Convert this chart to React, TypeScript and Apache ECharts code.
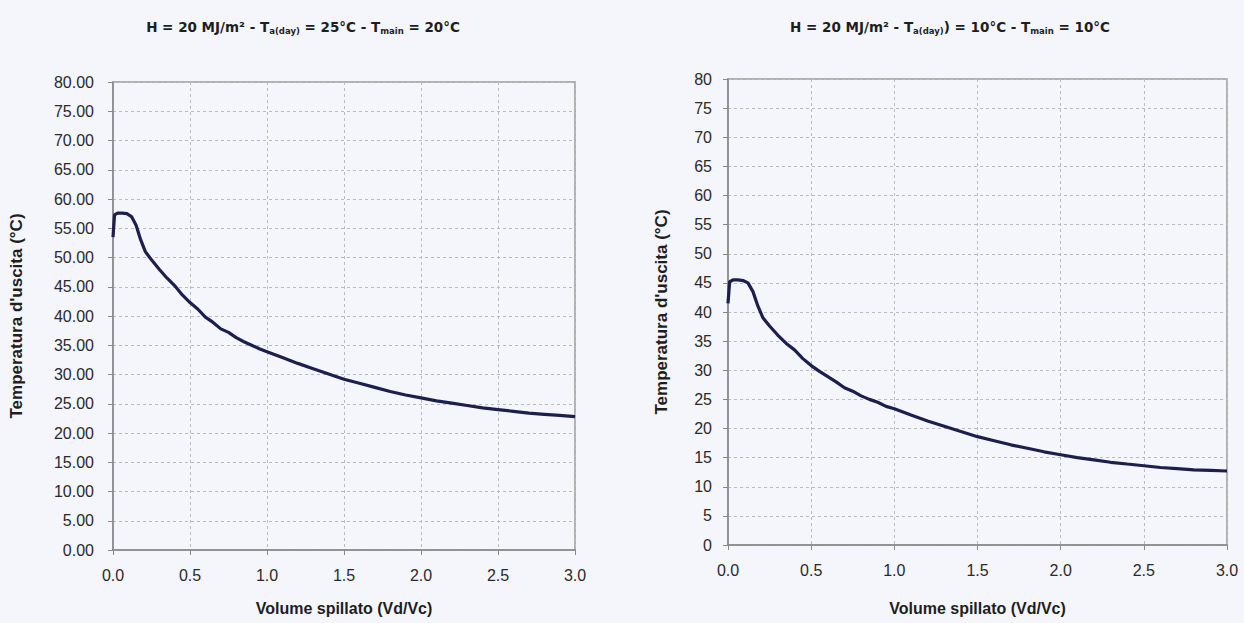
import React, { useEffect, useRef } from "react";
import * as echarts from "echarts";

const xValues = [0, 0.01, 0.03, 0.06, 0.09, 0.12, 0.15, 0.18, 0.21, 0.25, 0.3, 0.35, 0.4, 0.45, 0.5, 0.55, 0.6, 0.65, 0.7, 0.75, 0.8, 0.85, 0.9, 0.95, 1.0, 1.1, 1.2, 1.3, 1.4, 1.5, 1.6, 1.7, 1.8, 1.9, 2.0, 2.1, 2.2, 2.3, 2.4, 2.5, 2.6, 2.7, 2.8, 2.9, 3.0];
const leftTemps = [53.5, 57.3, 57.6, 57.6, 57.5, 57.0, 55.5, 53.0, 51.0, 49.6, 48.0, 46.5, 45.2, 43.6, 42.3, 41.2, 39.8, 38.9, 37.8, 37.2, 36.3, 35.6, 35.0, 34.4, 33.9, 32.9, 31.9, 31.0, 30.1, 29.2, 28.5, 27.8, 27.1, 26.5, 26.0, 25.5, 25.1, 24.7, 24.3, 24.0, 23.7, 23.4, 23.2, 23.0, 22.8];
const rightTemps = [41.5, 45.2, 45.5, 45.5, 45.4, 45.0, 43.5, 41.0, 39.0, 37.6, 36.0, 34.6, 33.5, 32.0, 30.8, 29.8, 28.9, 28.0, 27.0, 26.4, 25.6, 25.0, 24.5, 23.8, 23.4, 22.3, 21.3, 20.4, 19.5, 18.6, 17.9, 17.2, 16.6, 16.0, 15.5, 15.0, 14.6, 14.2, 13.9, 13.6, 13.3, 13.1, 12.9, 12.8, 12.7];

const leftTitle = ["H = 20 MJ/m² - T", "a(day)", " = 25°C - T", "main", " = 20°C"];
const rightTitle = ["H = 20 MJ/m² - T", "a(day)", ") = 10°C - T", "main", " = 10°C"];
const xAxisName = "Volume spillato (Vd/Vc)";
const yAxisName = "Temperatura d'uscita (°C)";

const FONT = "'Liberation Sans', Arial, sans-serif";
const TFONT = "'DejaVu Sans', sans-serif";
const LINE = "#1c1f4d";

function titleText(parts: string[]) {
  return `{m|${parts[0]}}{s|${parts[1]}}{m|${parts[2]}}{s|${parts[3]}}{m|${parts[4]}}`;
}

export default function App() {
  const ref = useRef<HTMLDivElement>(null);
  useEffect(() => {
    document.body.style.margin = "0";
    const chart = echarts.init(ref.current!, null, { renderer: "svg" });
    const rich = {
      m: { fontFamily: TFONT, fontSize: 13.5, fontWeight: "bold", color: "#1e1e1e" },
      s: { fontFamily: TFONT, fontSize: 8.5, fontWeight: "bold", color: "#1e1e1e", verticalAlign: "bottom", padding: [7, 0, 0, 0] },
    };
    const axisCommon = {
      axisLine: { show: true, lineStyle: { color: "#888", width: 1.5 } },
      axisTick: { show: true, inside: false, length: 5, lineStyle: { color: "#888" } },
      splitLine: { show: true, lineStyle: { color: "#b8bac4", type: [3, 3], width: 1 } },
      nameLocation: "middle",
    };
    const xAxis = (gi: number, gap: number) => ({
      ...axisCommon,
      type: "value",
      gridIndex: gi,
      min: 0,
      max: 3,
      interval: 0.5,
      name: xAxisName,
      nameGap: gap,
      nameTextStyle: { fontFamily: FONT, fontSize: 16, fontWeight: "bold", color: "#1e1e1e" },
      axisLabel: { fontFamily: FONT, fontSize: 16, color: "#2a2a2a", margin: 17, formatter: (v: number) => v.toFixed(1) },
    });
    const yAxis = (gi: number, gap: number, decimals: number, margin: number) => ({
      ...axisCommon,
      type: "value",
      gridIndex: gi,
      min: 0,
      max: 80,
      interval: 5,
      name: yAxisName,
      nameGap: gap,
      nameTextStyle: { fontFamily: FONT, fontSize: 17, fontWeight: "bold", color: "#1e1e1e" },
      axisLabel: { fontFamily: FONT, fontSize: 16, color: "#2a2a2a", margin, formatter: (v: number) => v.toFixed(decimals) },
    });
    chart.setOption({
      animation: false,
      backgroundColor: "#f5f6fb",
      title: [
        { text: titleText(leftTitle), left: 298, top: 14, textAlign: "center", textStyle: { rich } },
        { text: titleText(rightTitle), left: 945, top: 14, textAlign: "center", textStyle: { rich } },
      ],
      grid: [
        { left: 113, top: 82, width: 462, height: 468, show: true, borderColor: "#999", borderWidth: 1.5, backgroundColor: "transparent" },
        { left: 728, top: 79, width: 499, height: 466, show: true, borderColor: "#999", borderWidth: 1.5, backgroundColor: "transparent" },
      ],
      xAxis: [xAxis(0, 50), xAxis(1, 55)],
      yAxis: [yAxis(0, 88, 2, 19), yAxis(1, 58, 0, 16)],
      series: [
        {
          type: "line",
          xAxisIndex: 0,
          yAxisIndex: 0,
          data: xValues.map((x, i) => [x, leftTemps[i]]),
          showSymbol: false,
          lineStyle: { color: LINE, width: 3.2 },
        },
        {
          type: "line",
          xAxisIndex: 1,
          yAxisIndex: 1,
          data: xValues.map((x, i) => [x, rightTemps[i]]),
          showSymbol: false,
          lineStyle: { color: LINE, width: 3.2 },
        },
      ],
    });
    return () => chart.dispose();
  }, []);
  return <div ref={ref} style={{ position: "absolute", left: 0, top: 0, width: 1244, height: 623 }} />;
}
